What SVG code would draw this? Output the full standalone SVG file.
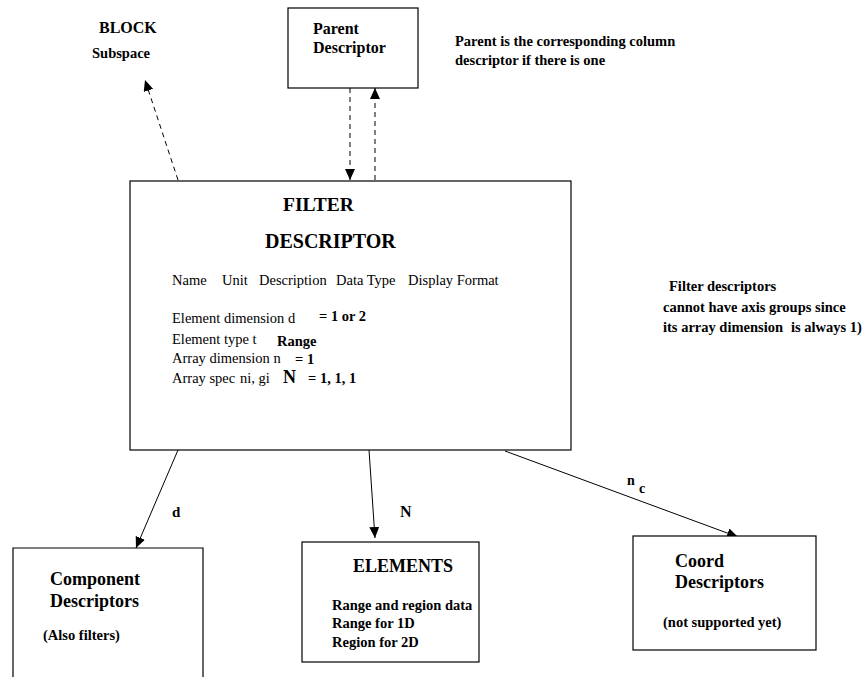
<svg xmlns="http://www.w3.org/2000/svg" width="868" height="677" viewBox="0 0 868 677">
  <style>
    text { font-family: "Liberation Serif", "Times New Roman", serif; fill: #000; white-space: pre; }
    .b { font-weight: bold; }
    .box { fill: #fff; stroke: #000; stroke-width: 1.2; }
    .edge { fill: none; stroke: #000; stroke-width: 1; }
    .dash { stroke-dasharray: 5 4; }
  </style>
  <defs>
    <marker id="head" markerUnits="userSpaceOnUse" markerWidth="12" markerHeight="10" refX="11" refY="5" orient="auto">
      <path d="M0,0 L11,5 L0,10 Z" fill="#000"/>
    </marker>
  </defs>

  <rect width="868" height="677" fill="#fff"/>

  <!-- connectors -->
  <g id="connectors">
    <line class="edge dash" x1="178" y1="180" x2="145" y2="80" marker-end="url(#head)"/>
    <line class="edge dash" x1="350" y1="88" x2="350" y2="180" marker-end="url(#head)"/>
    <line class="edge dash" x1="375" y1="180" x2="375" y2="88" marker-end="url(#head)"/>
    <line class="edge" x1="178" y1="450" x2="136" y2="548" marker-end="url(#head)"/>
    <line class="edge" x1="369" y1="450" x2="375" y2="538" marker-end="url(#head)"/>
    <line class="edge" x1="505" y1="451" x2="738" y2="537" marker-end="url(#head)"/>
    <text class="b" x="172" y="517" font-size="15">d</text>
    <text class="b" x="400" y="517" font-size="16">N</text>
    <text class="b" x="627" y="485" font-size="14">n</text>
    <text class="b" x="639" y="493" font-size="14">c</text>
  </g>

  <!-- free labels -->
  <g id="block-label">
    <text class="b" x="99" y="33" font-size="16">BLOCK</text>
    <text class="b" x="92" y="58" font-size="14.5">Subspace</text>
  </g>
  <g id="parent-note">
    <text class="b" x="455" y="46" font-size="14.5">Parent is the corresponding column</text>
    <text class="b" x="455" y="65" font-size="14.5">descriptor if there is one</text>
  </g>
  <g id="filter-note">
    <text class="b" x="669" y="291" font-size="14.5">Filter descriptors</text>
    <text class="b" x="663" y="312" font-size="14.5">cannot have axis groups since</text>
    <text class="b" x="663" y="332" font-size="14.5">its array dimension</text>
    <text class="b" x="791" y="332" font-size="14.5">is always 1)</text>
  </g>

  <!-- parent descriptor -->
  <g id="parent">
    <rect class="box" x="288" y="8" width="130" height="80"/>
    <text class="b" x="313" y="34" font-size="16">Parent</text>
    <text class="b" x="313" y="53" font-size="16">Descriptor</text>
  </g>

  <!-- filter descriptor -->
  <g id="filter">
    <rect class="box" x="130" y="181" width="441" height="269"/>
    <text class="b" x="283" y="211" font-size="19.5">FILTER</text>
    <text class="b" x="265" y="248" font-size="20">DESCRIPTOR</text>
    <g font-size="14.5">
      <text x="172" y="285">Name</text>
      <text x="222" y="285">Unit</text>
      <text x="259" y="285">Description</text>
      <text x="336" y="285">Data Type</text>
      <text x="408" y="285">Display Format</text>
      <text x="172" y="323">Element dimension d</text>
      <text x="172" y="344">Element type t</text>
      <text x="172" y="363">Array dimension n</text>
      <text x="172" y="383">Array spec</text>
      <text x="240" y="383">ni, gi</text>
    </g>
    <text class="b" x="319" y="321" font-size="14.5">= 1 or 2</text>
    <text class="b" x="277" y="346" font-size="14.5">Range</text>
    <text class="b" x="295" y="364" font-size="14.5">= 1</text>
    <text class="b" x="283" y="383" font-size="18">N</text>
    <text class="b" x="308" y="383" font-size="14.5">= 1, 1, 1</text>
  </g>

  <!-- component descriptors -->
  <g id="component">
    <path class="box" d="M13,678 V548 H203 V678"/>
    <text class="b" x="50" y="585" font-size="18">Component</text>
    <text class="b" x="50" y="607" font-size="18">Descriptors</text>
    <text class="b" x="43" y="640" font-size="14.5">(Also filters)</text>
  </g>

  <!-- elements -->
  <g id="elements">
    <rect class="box" x="302" y="542" width="177" height="120"/>
    <text class="b" x="353" y="572" font-size="18">ELEMENTS</text>
    <text class="b" x="332" y="610" font-size="14.5">Range and region data</text>
    <text class="b" x="332" y="628" font-size="14.5">Range for 1D</text>
    <text class="b" x="332" y="647" font-size="14.5">Region for 2D</text>
  </g>

  <!-- coord descriptors -->
  <g id="coord">
    <rect class="box" x="633" y="536" width="183" height="114"/>
    <text class="b" x="675" y="567" font-size="18">Coord</text>
    <text class="b" x="675" y="588" font-size="18">Descriptors</text>
    <text class="b" x="663" y="627" font-size="14.5">(not supported yet)</text>
  </g>
</svg>
